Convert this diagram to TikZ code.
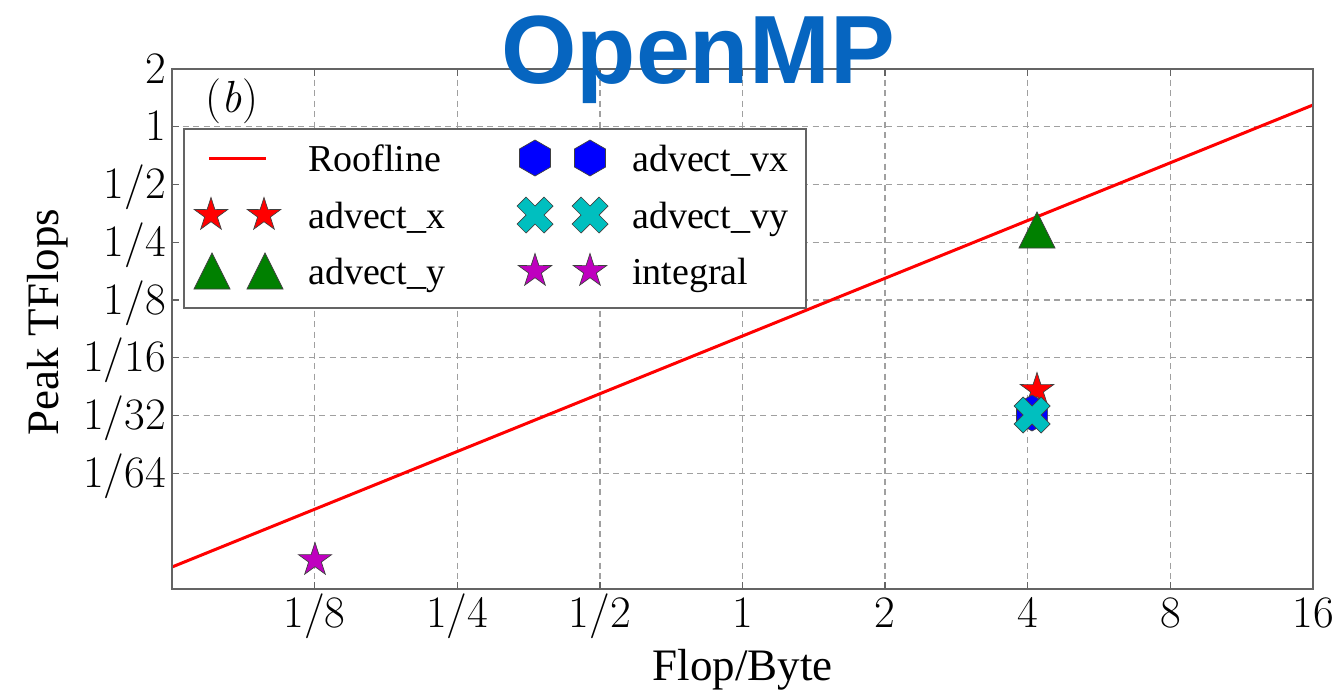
\documentclass[tikz,border=0pt]{standalone}
\usepackage{fontspec}
\newfontfamily\serifface{Liberation Serif}
\newfontfamily\titleface{Liberation Sans}
\definecolor{titleblue}{RGB}{6,101,192}
\definecolor{mplgreen}{RGB}{0,128,0}
\definecolor{mplcyan}{RGB}{0,191,191}
\definecolor{mplmagenta}{RGB}{191,0,191}
\definecolor{gridgray}{RGB}{160,160,160}
\definecolor{framegray}{RGB}{100,100,100}
\tikzset{
  gridline/.style={draw=gridgray, line width=1.3pt, dash pattern=on 6pt off 4.5pt},
  frameline/.style={draw=framegray, line width=2pt},
  tickmark/.style={draw=framegray, line width=1.4pt},
  roof/.style={draw=red, line width=3pt},
  ticklab/.style={font=\fontsize{45}{50}\selectfont, inner sep=0pt},
  axlab/.style={font=\serifface\fontsize{45}{50}\selectfont, inner sep=0pt},
  legtext/.style={font=\serifface\fontsize{38}{42}\selectfont, inner sep=0pt, anchor=base west},
  markedge/.style={draw=black!75, line width=0.7pt},
  mstar/.pic={\path[pic actions] (-90:17.5) -- (-54:6.68) -- (-18:17.5) -- (18:6.68) -- (54:17.5)
      -- (90:6.68) -- (126:17.5) -- (162:6.68) -- (198:17.5) -- (234:6.68) -- cycle;},
  mtri/.pic={\path[pic actions] (0,-18) -- (-18,18) -- (18,18) -- cycle;},
  mhex/.pic={\path[pic actions] (30:18) -- (90:18) -- (150:18) -- (210:18) -- (270:18) -- (330:18) -- cycle;},
  mcross/.pic={\path[pic actions] (-9,-18) -- (0,-9) -- (9,-18) -- (18,-9) -- (9,0) -- (18,9)
      -- (9,18) -- (0,9) -- (-9,18) -- (-18,9) -- (-9,0) -- (-18,-9) -- cycle;},
}
\begin{document}
\begin{tikzpicture}[x=1pt,y=-1pt]
\useasboundingbox (0,0) rectangle (1341,691);

% plot frame corners (log2 axes: x from 1/16 to 16, y from 1/256 to 2)
\coordinate (NW) at (172,69);
\coordinate (SE) at (1313,589);

% dashed grid
\foreach \k in {1,...,7} {
  \pgfmathsetmacro{\gx}{172+142.625*\k}
  \draw[gridline] (\gx,69) -- (\gx,589);
  \pgfmathsetmacro{\gy}{69+57.75*\k}
  \draw[gridline] (172,\gy) -- (1313,\gy);
}

% roofline
\coordinate (rfL) at (172,567);
\coordinate (rfR) at (1313,105);
\draw[roof] (rfL) -- (rfR);

% measured kernels
\coordinate (pAx) at (1037,390);
\coordinate (pAy) at (1037,230);
\coordinate (pVx) at (1032,413);
\coordinate (pVy) at (1032,415);
\coordinate (pInt) at (315,560);
\pic[fill=red, markedge] at (pAx) {mstar};
\pic[fill=mplgreen, markedge] at (pAy) {mtri};
\pic[fill=blue, markedge] at (pVx) {mhex};
\pic[fill=mplcyan, markedge] at (pVy) {mcross};
\pic[fill=mplmagenta, markedge] at (pInt) {mstar};

% frame and ticks
\draw[frameline] (NW) rectangle (SE);
\foreach \k in {1,...,7} {
  \pgfmathsetmacro{\gx}{172+142.625*\k}
  \draw[tickmark] (\gx,589) -- (\gx,582) (\gx,69) -- (\gx,76);
  \pgfmathsetmacro{\gy}{69+57.75*\k}
  \draw[tickmark] (172,\gy) -- (179,\gy) (1313,\gy) -- (1306,\gy);
}

% x tick labels
\foreach \k/\den in {1/8, 2/4, 3/2} {
  \pgfmathsetmacro{\gx}{172+142.625*\k}
  \node[ticklab, anchor=base] (xt\k) at (\gx,627) {1/\den};
}
\foreach \k/\lab in {4/1, 5/2, 6/4, 7/8, 8/16} {
  \pgfmathsetmacro{\gx}{172+142.625*\k}
  \node[ticklab, anchor=base] (xt\k) at (\gx,627) {\lab};
}
% y tick labels
\foreach \k/\lab in {0/2, 1/1} {
  \pgfmathsetmacro{\gy}{69+57.75*\k+14}
  \node[ticklab, anchor=base east] (yt\k) at (166,\gy) {\lab};
}
\foreach \k/\den in {2/2, 3/4, 4/8, 5/16, 6/32, 7/64} {
  \pgfmathsetmacro{\gy}{69+57.75*\k+14}
  \node[ticklab, anchor=base east] (yt\k) at (166,\gy) {1/\den};
}

% axis labels
\node[axlab, anchor=base] (xlabel) at (742.5,680) {Flop/Byte};
\node[axlab, anchor=base, rotate=90] (ylabel) at (58,322) {Peak TFlops};

% panel tag
\node[ticklab] (panel) at (232,101) {(\textit{b})};

% legend
\node[draw=framegray, line width=1.5pt, fill=white, minimum width=622pt, minimum height=179pt,
      anchor=north west, inner sep=0pt] (legend) at (183,128) {};
\coordinate (lgA) at (209,158);
\coordinate (lgB) at (266,158);
\draw[roof] (lgA) -- (lgB);
\node[legtext] (tRoof) at (308,171) {Roofline};
\pic[fill=red, markedge] at (211,215) {mstar};
\pic[fill=red, markedge] at (264,215) {mstar};
\node[legtext] (tAx) at (308,228) {advect\_x};
\pic[fill=mplgreen, markedge] at (212,271) {mtri};
\pic[fill=mplgreen, markedge] at (265,271) {mtri};
\node[legtext] (tAy) at (308,284) {advect\_y};
\pic[fill=blue, markedge] at (535,158) {mhex};
\pic[fill=blue, markedge] at (590,158) {mhex};
\node[legtext] (tVx) at (632,171) {advect\_vx};
\pic[fill=mplcyan, markedge] at (535,215) {mcross};
\pic[fill=mplcyan, markedge] at (590,215) {mcross};
\node[legtext] (tVy) at (632,228) {advect\_vy};
\pic[fill=mplmagenta, markedge] at (535,271) {mstar};
\pic[fill=mplmagenta, markedge] at (590,271) {mstar};
\node[legtext] (tInt) at (632,284) {integral};

% title
\node[font=\titleface\bfseries\fontsize{97}{100}\selectfont, text=titleblue, anchor=base, inner sep=0pt]
  (title) at (698,83) {OpenMP};
\end{tikzpicture}
\end{document}
